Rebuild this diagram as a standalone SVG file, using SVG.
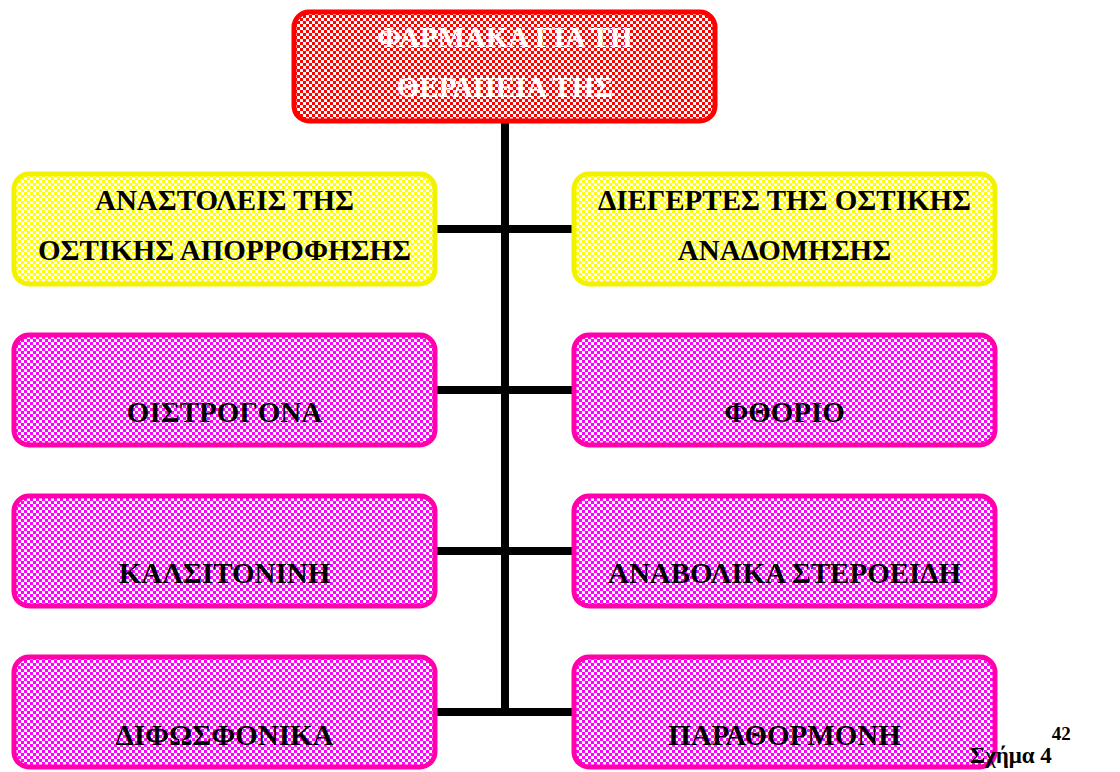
<svg xmlns="http://www.w3.org/2000/svg" width="1120" height="772" viewBox="0 0 1120 772">
<style>
.box{stroke-width:5}
.red{fill:url(#pr);stroke:#ff0000}
.yel{fill:url(#py);stroke:#f2f200}
.mag{fill:url(#pm);stroke:#ff00aa}
.t{font-family:"Times New Roman","Liberation Serif","DejaVu Serif",serif;font-weight:bold;font-size:29px;text-anchor:middle;fill:#000}
.tw{fill:#fff}
.cap{font-family:"Times New Roman","Liberation Serif","DejaVu Serif",serif;font-weight:bold;fill:#000}
.conn{stroke:#000;stroke-width:8;fill:none}
</style>
<defs>
<pattern id="pr" width="6" height="6" patternUnits="userSpaceOnUse"><rect width="6" height="6" fill="#fff"/><rect width="3" height="3" fill="#ff0000"/><rect x="3" y="3" width="3" height="3" fill="#ff0000"/></pattern>
<pattern id="py" width="6" height="6" patternUnits="userSpaceOnUse"><rect width="6" height="6" fill="#fff"/><rect width="3" height="3" fill="#ffff00"/><rect x="3" y="3" width="3" height="3" fill="#ffff00"/></pattern>
<pattern id="pm" width="6" height="6" patternUnits="userSpaceOnUse"><rect width="6" height="6" fill="#fff"/><rect width="3" height="3" fill="#ff00ff"/><rect x="3" y="3" width="3" height="3" fill="#ff00ff"/></pattern>
</defs>
<g id="connectors">
<line class="conn" x1="505" y1="122" x2="505" y2="716"/>
<line class="conn" x1="437" y1="229" x2="572" y2="229"/>
<line class="conn" x1="437" y1="390" x2="572" y2="390"/>
<line class="conn" x1="437" y1="551" x2="572" y2="551"/>
<line class="conn" x1="437" y1="712" x2="572" y2="712"/>
</g>
<g id="root">
<rect class="box red" x="294" y="12" width="421" height="109" rx="15"/>
<text class="t tw" x="505" y="47">ΦΑΡΜΑΚΑ ΓΙΑ ΤΗ</text>
<text class="t tw" x="505" y="97">ΘΕΡΑΠΕΙΑ ΤΗΣ</text>
</g>
<g id="n-anastoleis">
<rect class="box yel" x="14" y="174" width="421" height="110" rx="15"/>
<text class="t" x="224.5" y="210">ΑΝΑΣΤΟΛΕΙΣ ΤΗΣ</text>
<text class="t" x="224.5" y="260">ΟΣΤΙΚΗΣ ΑΠΟΡΡΟΦΗΣΗΣ</text>
</g>
<g id="n-diegertes">
<rect class="box yel" x="574" y="174" width="421" height="110" rx="15"/>
<text class="t" x="784.5" y="210">ΔΙΕΓΕΡΤΕΣ ΤΗΣ ΟΣΤΙΚΗΣ</text>
<text class="t" x="784.5" y="260">ΑΝΑΔΟΜΗΣΗΣ</text>
</g>
<g id="n-oistrogona">
<rect class="box mag" x="14" y="335" width="421" height="110" rx="15"/>
<text class="t" x="224.5" y="422">ΟΙΣΤΡΟΓΟΝΑ</text>
</g>
<g id="n-fthorio">
<rect class="box mag" x="574" y="335" width="421" height="110" rx="15"/>
<text class="t" x="784.5" y="422">ΦΘΟΡΙΟ</text>
</g>
<g id="n-kalsitonini">
<rect class="box mag" x="14" y="496" width="421" height="110" rx="15"/>
<text class="t" x="224.5" y="583">ΚΑΛΣΙΤΟΝΙΝΗ</text>
</g>
<g id="n-anabolika">
<rect class="box mag" x="574" y="496" width="421" height="110" rx="15"/>
<text class="t" x="784.5" y="583">ΑΝΑΒΟΛΙΚΑ ΣΤΕΡΟΕΙΔΗ</text>
</g>
<g id="n-difosfonika">
<rect class="box mag" x="14" y="657" width="421" height="110" rx="15"/>
<text class="t" x="224.5" y="745">ΔΙΦΩΣΦΟΝΙΚΑ</text>
</g>
<g id="n-parathormoni">
<rect class="box mag" x="574" y="657" width="421" height="110" rx="15"/>
<text class="t" x="784.5" y="745">ΠΑΡΑΘΟΡΜΟΝΗ</text>
</g>
<g id="caption">
<text class="cap" x="970" y="763" font-size="23">Σχήμα 4<tspan font-size="19" dy="-23">42</tspan></text>
</g>
</svg>
